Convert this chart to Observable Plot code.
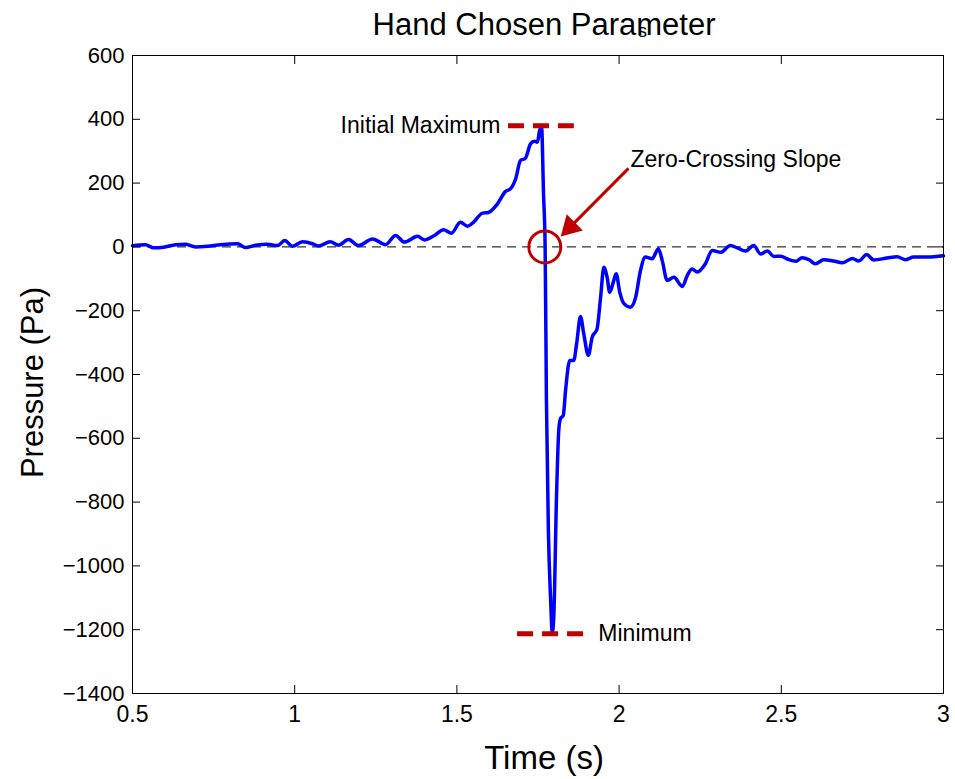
<!DOCTYPE html>
<html><head><meta charset="utf-8">
<script src="https://cdn.jsdelivr.net/npm/d3@7"></script>
<script src="https://cdn.jsdelivr.net/npm/@observablehq/plot@0.6"></script>
<style>body{margin:0;background:#fff}</style>
</head><body><div id="chart"></div>
<script>
// Pressure trace (s, Pa)
const time = [0.500,0.540,0.565,0.596,0.633,0.663,0.694,0.731,0.771,0.824,
  0.848,0.879,0.916,0.947,0.969,0.993,1.024,1.055,1.073,1.110,
  1.135,1.166,1.197,1.240,1.280,1.311,1.338,1.379,1.400,1.431,
  1.459,1.483,1.511,1.533,1.551,1.579,1.597,1.625,1.650,1.665,
  1.681,1.696,1.711,1.727,1.739,1.748,1.755,1.761,1.767,1.772,
  1.776,1.782,1.789,1.794,1.799,1.807,1.814,1.819,1.828,1.835,
  1.848,1.860,1.869,1.881,1.891,1.905,1.917,1.932,1.943,1.953,
  1.963,1.971,1.982,1.991,2.002,2.015,2.035,2.051,2.066,2.081,
  2.102,2.121,2.133,2.148,2.169,2.195,2.210,2.225,2.241,2.266,
  2.287,2.313,2.343,2.364,2.390,2.415,2.436,2.457,2.477,2.498,
  2.519,2.545,2.564,2.585,2.605,2.631,2.661,2.688,2.719,2.739,
  2.763,2.785,2.826,2.857,2.883,2.908,2.950,3.000];
const pressure = [4,7,-3,-1,7,8,0,2,7,10,
  -2,5,8,4,20,2,16,10,3,16,
  5,23,4,25,7,36,15,33,22,36,
  54,43,77,65,77,106,108,135,174,182,
  213,271,278,323,331,328,365,377,167,0,
  -481,-889,-1108,-1209,-1149,-785,-575,-539,-528,-450,
  -356,-356,-304,-218,-272,-340,-283,-257,-158,-64,
  -95,-142,-111,-84,-142,-178,-189,-158,-74,-32,
  -37,-6,-43,-105,-95,-124,-90,-69,-79,-53,
  -11,-17,4,-3,-13,4,-22,-13,-30,-29,
  -38,-45,-34,-40,-53,-40,-44,-50,-36,-44,
  -24,-41,-35,-31,-40,-32,-32,-28];

// Axis ticks
const xTicks = [0.5, 1, 1.5, 2, 2.5, 3];
const yTicks = [600, 400, 200, 0, -200, -400, -600, -800, -1000, -1200, -1400];

// Annotations
const levelLabels = ["Initial Maximum", "Minimum"];
const levelValues = [380, -1213];
const levelStart = [1.659, 1.687];
const levelEnd = [1.862, 1.891];
const levelTextX = [1.634, 1.936];
const crossingT = [1.771];
const crossingP = [0];
const arrowFromT = [2.029], arrowFromP = [246];
const arrowHeadT = [1.849], arrowHeadP = [62];
const arrowLabel = ["Zero-Crossing Slope"];
const arrowLabelT = [2.035], arrowLabelP = [274];

const series = time.map((t, i) => ({t, p: pressure[i]}));
const levels = levelLabels.map((label, i) => ({label, p: levelValues[i], x1: levelStart[i], x2: levelEnd[i], tx: levelTextX[i]}));
const circ = crossingT.map((t, i) => ({t, p: crossingP[i]}));
const arrows = arrowFromT.map((t, i) => ({x1: t, y1: arrowFromP[i], x2: arrowHeadT[i], y2: arrowHeadP[i]}));
const arrowTexts = arrowLabel.map((label, i) => ({label, t: arrowLabelT[i], p: arrowLabelP[i]}));

const red = "#c00000";
const font = "'Liberation Sans', Arial, Helvetica, sans-serif";

const chart = Plot.plot({
  width: 955, height: 779,
  marginTop: 55, marginRight: 12, marginBottom: 86, marginLeft: 132,
  style: {fontFamily: font, fontSize: "22px", background: "white", color: "black"},
  x: {domain: [0.5, 3]},
  y: {domain: [-1400, 600]},
  marks: [
    Plot.ruleY([0], {stroke: "black", strokeWidth: 1, strokeDasharray: "9,6"}),
    Plot.line(series, {x: "t", y: "p", stroke: "#0000ff", strokeWidth: 3.5, curve: "monotone-x"}),
    Plot.ruleY(levels, {y: "p", x1: "x1", x2: "x2", stroke: red, strokeWidth: 5, strokeDasharray: "16,9"}),
    Plot.text(levels.slice(0,1), {x: "tx", y: "p", text: "label", textAnchor: "end", fontSize: 23, fill: "black"}),
    Plot.text(levels.slice(1), {x: "tx", y: "p", text: "label", textAnchor: "start", fontSize: 23, fill: "black"}),
    Plot.dot(circ, {x: "t", y: "p", r: 16, stroke: red, strokeWidth: 3, fill: "none"}),
    Plot.link(arrows, {x1: "x1", y1: "y1", x2: "x2", y2: "y2", stroke: red, strokeWidth: 3}),
    Plot.dot(arrows, {x: "x2", y: "y2", symbol: "triangle", r: 8.5, fill: red, stroke: "none", rotate: 225}),
    Plot.text(arrowTexts, {x: "t", y: "p", text: "label", textAnchor: "start", fontSize: 23, fill: "black"}),
    Plot.frame({stroke: "black", strokeWidth: 1}),
    Plot.axisX(xTicks, {anchor: "bottom", tickSize: -8, tickPadding: 20, tickFormat: d => String(d), label: null, fontSize: 23}),
    Plot.axisX(xTicks, {anchor: "top", tickSize: -8, tickFormat: () => "", label: null}),
    Plot.axisY(yTicks, {anchor: "left", tickSize: -8, tickPadding: 16, tickFormat: d3.format("d"), label: null, fontSize: 22}),
    Plot.axisY(yTicks, {anchor: "right", tickSize: -8, tickFormat: () => "", label: null}),
    Plot.text(["Time (s)"], {frameAnchor: "bottom", lineAnchor: "middle", dy: 65, dx: 6, fontSize: 33, fill: "black"}),
    Plot.text(["Pressure (Pa)"], {frameAnchor: "left", textAnchor: "middle", lineAnchor: "middle", dx: -99, dy: 8, rotate: -90, fontSize: 31, fill: "black"}),
    Plot.text(["Hand Chosen Parameter"], {frameAnchor: "top", lineAnchor: "middle", dy: -30, dx: 6, fontSize: 31, fill: "black"}),
    Plot.text(["s"], {frameAnchor: "top-left", textAnchor: "middle", lineAnchor: "middle", dx: 510, dy: -24, fontSize: 18, fill: "black"})
  ]
});
document.getElementById("chart").appendChild(chart);
</script>
</body></html>
